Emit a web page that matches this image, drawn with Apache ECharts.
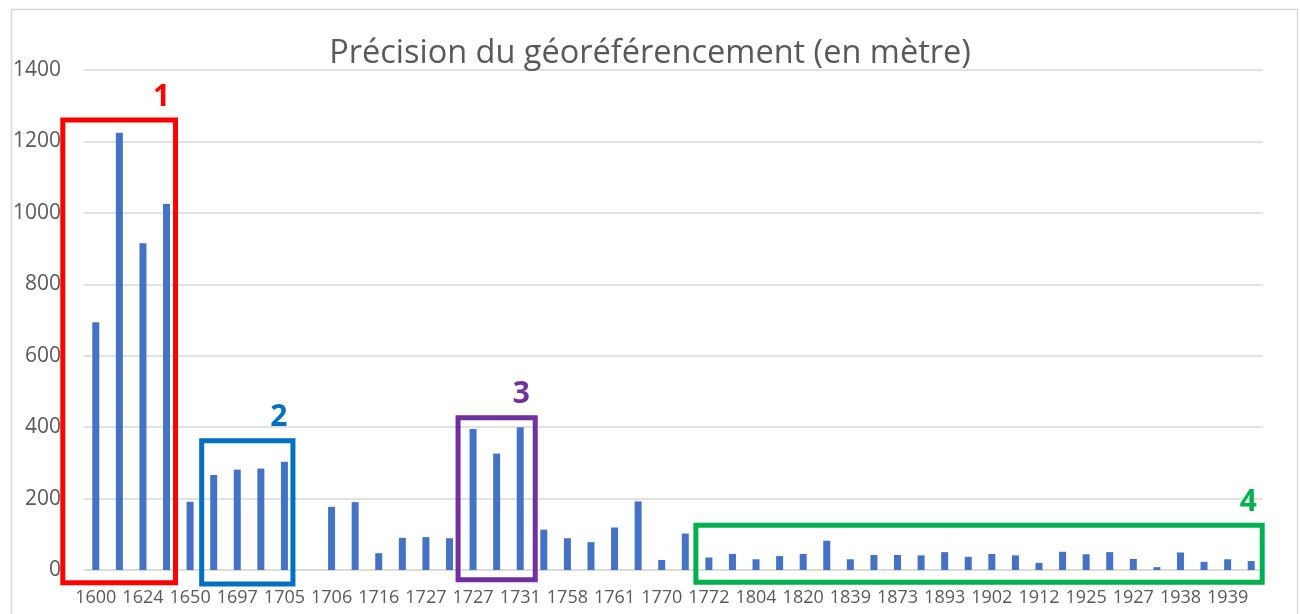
<!DOCTYPE html>
<html>
<head>
<meta charset="utf-8">
<script src="https://cdn.jsdelivr.net/npm/echarts@6/dist/echarts.min.js"></script>
<style>
  html, body { margin: 0; padding: 0; background: #ffffff; }
  #chart { width: 1300px; height: 614px; }
</style>
</head>
<body>
<div id="chart"></div>
<script>
// Map years (every other one is labelled on the axis)
const years = [
  '1600', '1610', '1624', '1640', '1650', '1680', '1697', '1700', '1705', '1705',
  '1706', '1710', '1716', '1720', '1727', '1727', '1727', '1730', '1731', '1750',
  '1758', '1760', '1761', '1765', '1770', '1771', '1772', '1790', '1804', '1812',
  '1820', '1830', '1839', '1850', '1873', '1880', '1893', '1900', '1902', '1910',
  '1912', '1920', '1925', '1926', '1927', '1930', '1938', '1938', '1939', '1940'
];

// Georeferencing accuracy, in metres
const precision = [
  694, 1224, 915, 1025, 191, 266, 281, 284, 303, 0,
  177, 190, 47, 90, 92, 89, 395, 326, 400, 113,
  89, 78, 119, 192, 28, 102, 35, 45, 30, 39,
  45, 82, 30, 42, 42, 41, 50, 37, 45, 41,
  20, 51, 44, 50, 31, 8, 49, 23, 30, 25
];

// Highlighted groups: label, first and last category index, top and bottom (axis units)
const groupLabels = ['1', '2', '3', '4'];
const groupFirst = [0, 5, 16, 26];
const groupLast = [3, 8, 18, 49];
const groupTop = [1260, 362, 426, 125];
const groupBottom = [-36, -39, -27, -34];

const yTicks = { min: 0, max: 1400, step: 200 };

// Drawing styles for the group frames
const groupColors = ['#FF0000', '#0070C0', '#7030A0', '#00B050'];
const groupPadLeft = [33, 12, 15, 13];
const groupPadRight = [9, 8.5, 15, 11];

const chart = echarts.init(document.getElementById('chart'), null, { renderer: 'canvas' });

const groupData = groupLabels.map((_, i) => [groupFirst[i], groupLast[i], groupTop[i], groupBottom[i]]);

const textGray = '#595959';
const gridGray = '#D9D9D9';

chart.setOption({
  animation: false,
  backgroundColor: '#ffffff',
  title: {
    text: 'Précision du géoréférencement (en mètre)',
    left: 'center',
    top: 32,
    textStyle: { fontFamily: 'Open Sans', fontSize: 32.5, fontWeight: 'normal', color: textGray }
  },
  graphic: [{
    type: 'rect',
    left: 9, top: 7,
    shape: { width: 1286, height: 640 },
    style: { fill: 'none', stroke: gridGray, lineWidth: 1.5 },
    silent: true
  }],
  grid: { left: 84, right: 37, top: 70, bottom: 44, containLabel: false },
  xAxis: {
    type: 'category',
    data: years,
    axisLine: { show: true, lineStyle: { color: gridGray, width: 1.5 } },
    axisTick: { show: false },
    axisLabel: {
      interval: 1,
      color: textGray,
      fontFamily: 'Open Sans',
      fontSize: 18,
      margin: 19
    }
  },
  yAxis: {
    type: 'value',
    min: yTicks.min,
    max: yTicks.max,
    interval: yTicks.step,
    axisLine: { show: false },
    axisTick: { show: false },
    splitLine: { lineStyle: { color: gridGray, width: 1.5 } },
    axisLabel: {
      color: textGray,
      fontFamily: 'Open Sans',
      fontSize: 21,
      margin: 23,
      formatter: function (v) { return String(v); }
    }
  },
  series: [
    {
      type: 'bar',
      data: precision,
      barWidth: 7,
      itemStyle: { color: '#4472C4' }
    },
    {
      type: 'custom',
      data: groupData,
      encode: { x: [0, 1], y: [2, 3] },
      clip: false,
      z: 5,
      renderItem: function (params, api) {
        const i = params.dataIndex;
        const a = api.coord([api.value(0), api.value(2)]);
        const b = api.coord([api.value(1), api.value(3)]);
        const x0 = a[0] - groupPadLeft[i];
        const x1 = b[0] + groupPadRight[i];
        const y0 = a[1];
        const y1 = b[1];
        const color = groupColors[i];
        return {
          type: 'group',
          children: [
            {
              type: 'rect',
              shape: { x: x0, y: y0, width: x1 - x0, height: y1 - y0 },
              style: { fill: 'none', stroke: color, lineWidth: 5 }
            },
            {
              type: 'text',
              x: x1 - 14,
              y: y0 - 23,
              style: {
                text: groupLabels[i],
                fill: color,
                font: 'bold 30px "Open Sans"',
                align: 'center',
                verticalAlign: 'middle'
              }
            }
          ]
        };
      }
    }
  ]
});
</script>
</body>
</html>
